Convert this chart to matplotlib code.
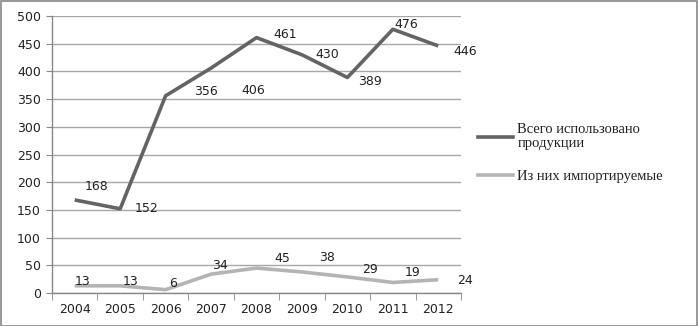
import matplotlib
matplotlib.use("Agg")
import matplotlib.pyplot as plt
from matplotlib.patches import Rectangle
from matplotlib.lines import Line2D

years = ["2004", "2005", "2006", "2007", "2008", "2009", "2010", "2011", "2012"]
total = [168, 152, 356, 406, 461, 430, 389, 476, 446]
imported = [13, 13, 6, 34, 45, 38, 29, 19, 24]
series_names = ["Всего использовано\nпродукции", "Из них импортируемые"]

# label offsets in pixels (dx, dy up)
total_off = [(22, 13), (26, 0), (40, 4), (42, -22), (29, 3), (25, 0), (23, -4), (13, 5), (27, -6)]
imp_off = [(8, 4), (10, 4), (7, 6), (9, 9), (26, 10), (25, 14), (23, 7), (20, 10), (27, -1)]

W, H = 698, 326
fig = plt.figure(figsize=(W / 100, H / 100), dpi=100)
ax = fig.add_axes([52 / W, 1 - 293 / H, (461 - 52) / W, (293 - 16) / H])

x = list(range(len(years)))
ax.plot(x, total, color="#646464", lw=2.6, solid_capstyle="butt", zorder=3)
ax.plot(x, imported, color="#b4b4b4", lw=2.6, solid_capstyle="butt", zorder=3)

ax.set_xlim(-0.5, len(years) - 0.5)
ax.set_ylim(0, 500)
ax.set_yticks(range(0, 501, 50))
ax.yaxis.grid(True, color="#a8a8a8", lw=1.0)
ax.set_axisbelow(True)

ax.set_xticks(x)
ax.set_xticklabels(years)
ax.set_xticks([i - 0.5 for i in range(len(years) + 1)], minor=True)
ax.tick_params(axis="x", which="major", length=0, pad=7, labelsize=9, colors="#222222")
ax.tick_params(axis="x", which="minor", length=5, color="#888888", direction="out")
ax.tick_params(axis="y", length=4, color="#888888", labelsize=9, colors="#222222", pad=4)

for s in ["top", "right"]:
    ax.spines[s].set_visible(False)
for s in ["left", "bottom"]:
    ax.spines[s].set_color("#888888")
    ax.spines[s].set_linewidth(1.0)

for i, v in enumerate(total):
    dx, dy = total_off[i]
    ax.annotate(str(v), (i, v), xytext=(dx * 0.72, dy * 0.72), textcoords="offset points",
                ha="center", va="center", fontsize=9, color="#222222")
for i, v in enumerate(imported):
    dx, dy = imp_off[i]
    ax.annotate(str(v), (i, v), xytext=(dx * 0.72, dy * 0.72), textcoords="offset points",
                ha="center", va="center", fontsize=9, color="#222222")

handles = [Line2D([], [], color="#646464", lw=2.6), Line2D([], [], color="#b4b4b4", lw=2.6)]
leg = fig.legend(handles, series_names, loc="upper left", bbox_to_anchor=(478 / W, 1 - 123 / H),
                 frameon=False, prop={"family": "Liberation Serif", "size": 10.5},
                 handlelength=2.4, handletextpad=0.3, labelspacing=1.3, borderaxespad=0, borderpad=0)
for t in leg.get_texts():
    t.set_linespacing(1.15)
    t.set_color("#222222")

fig.patches.append(Rectangle((0.5 / W, 0.5 / H), 1 - 1.5 / W, 1 - 1.5 / H, transform=fig.transFigure,
                             fill=False, edgecolor="#888888", lw=1.2))

fig.savefig("out.png", dpi=100)
